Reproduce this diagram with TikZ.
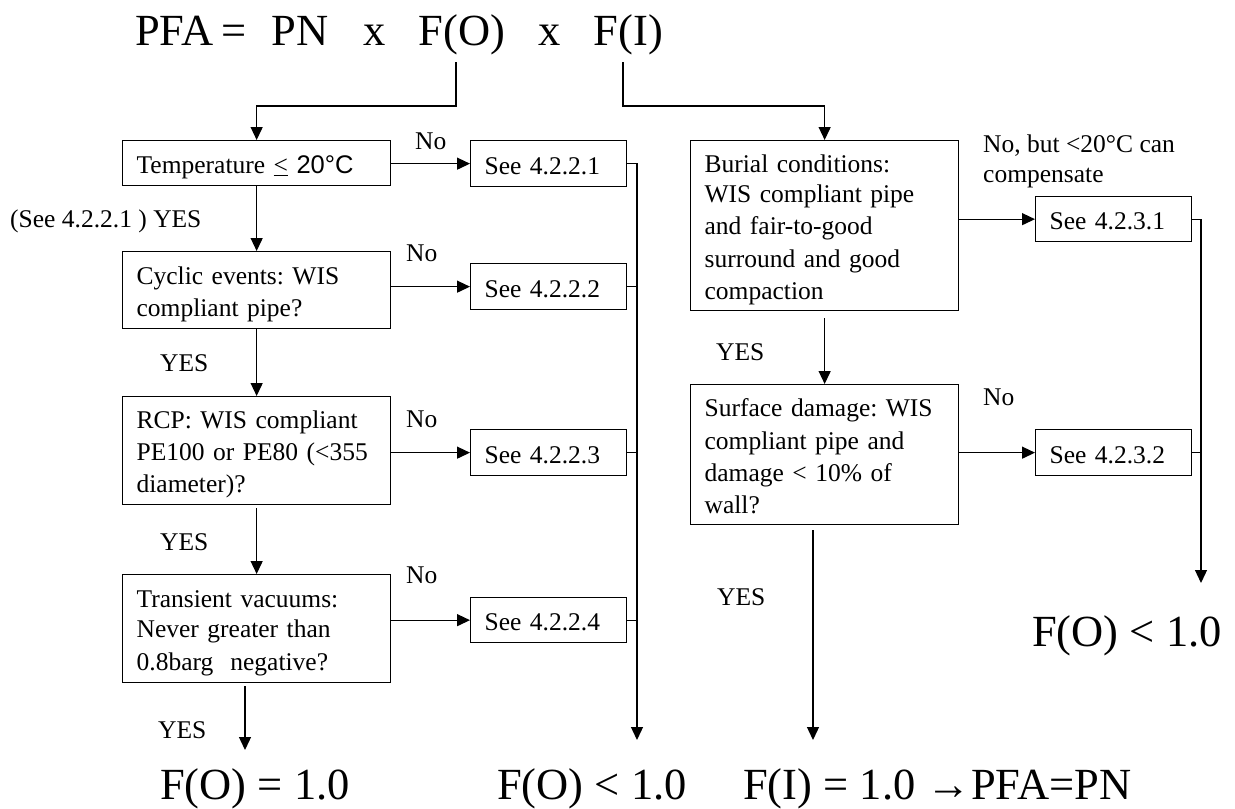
\documentclass[tikz,border=0pt]{standalone}
\usepackage{fontspec}
\setmainfont{Liberation Serif}
\newfontfamily\arialfont{Liberation Sans}
\usetikzlibrary{arrows.meta}
\newcommand\boxfont{\fontsize{25.5}{30.5}\selectfont}
\newcommand\bigfont{\fontsize{44.5}{53}\selectfont}
\newcommand\ms{\rule[-4.75pt]{0pt}{30.5pt}}
\frenchspacing
\begin{document}
\begin{tikzpicture}[x=1pt,y=-1pt,
  box/.style={draw, line width=1.3pt, anchor=north west, inner xsep=14pt, inner ysep=0pt, align=left, font=\boxfont},
  lbl/.style={font=\boxfont, inner sep=0pt, anchor=base west},
  big/.style={font=\bigfont, inner sep=0pt, anchor=base west},
  conn/.style={line width=1.3pt},
  arr/.style={conn, -{Triangle[length=13pt,width=12pt]}},
]
\useasboundingbox (0,0) rectangle (1235,809);

% title
\node[big] (title) at (135,45) {PFA\hspace{8pt}=\hspace{25pt}PN\hspace{35pt}x\hspace{33pt}F(O)\hspace{33.5pt}x\hspace{33pt}F(I)};
\coordinate (fo) at (456,62);
\coordinate (fi) at (623,62);

% left column
\node[box, text width=240pt, minimum height=45pt] (temp) at (122,140) {\ms Temperature \underline{<} {\arialfont 20°C}};
\node[box, text width=128pt, minimum height=46pt] (s1) at (470,140) {\ms See 4.2.2.1};
\node[box, text width=240pt, minimum height=77pt] (cyc) at (122,251) {\ms Cyclic events: WIS\\\ms compliant pipe?};
\node[box, text width=128pt, minimum height=46pt] (s2) at (470,263) {\ms See 4.2.2.2};
\node[box, text width=240pt, minimum height=108pt] (rcp) at (122,396) {\ms RCP: WIS compliant\\\ms PE100 or PE80 (<355\\\ms diameter)?};
\node[box, text width=128pt, minimum height=46pt] (s3) at (470,429) {\ms See 4.2.2.3};
\node[box, text width=240pt, minimum height=108pt] (tv) at (122,574) {\ms Transient vacuums:\\\ms Never greater than\\\ms 0.8barg\ \ negative?};
\node[box, text width=128pt, minimum height=45pt] (s4) at (470,597) {\ms See 4.2.2.4};

% right column
\node[box, text width=240pt, minimum height=170pt] (bur) at (690,140) {\ms Burial conditions:\\\ms WIS compliant pipe\\\ms and fair-to-good\\\ms surround and good\\\ms compaction};
\node[box, text width=128pt, minimum height=45pt] (s5) at (1035,196) {\ms See 4.2.3.1};
\node[box, text width=240pt, minimum height=140pt] (surf) at (690,384) {\ms Surface damage: WIS\\\ms compliant pipe and\\\ms damage < 10\% of\\\ms wall?};
\node[box, text width=128pt, minimum height=46pt] (s6) at (1035,429) {\ms See 4.2.3.2};

% results
\node[big] (r1) at (160,799) {F(O) = 1.0};
\node[big] (r2) at (497,799) {F(O) < 1.0};
\node[big] (r3) at (743,799) {F(I) = 1.0 →PFA=PN};
\node[big] (r4) at (1032,646) {F(O) < 1.0};

% labels
\node[lbl] (no1) at (415,149) {No};
\node[lbl] (yes1) at (10,227) {(See 4.2.2.1 ) YES};
\node[lbl] (no2) at (406,261) {No};
\node[lbl] (yes2) at (160,371) {YES};
\node[lbl] (no3) at (406,427) {No};
\node[lbl] (yes3) at (160,550) {YES};
\node[lbl] (no4) at (406,583) {No};
\node[lbl] (yes4) at (158,738) {YES};
\node[lbl, anchor=north west, align=left] (no5) at (983,126.25) {\ms No, but <20°C can\\\ms compensate};
\node[lbl] (yes5) at (716,360) {YES};
\node[lbl] (no6) at (983,405) {No};
\node[lbl] (yes6) at (717,605) {YES};

% end points
\coordinate (e1) at (245,750);
\coordinate (e2) at (637,740);
\coordinate (e3) at (813,740);
\coordinate (e4) at (1201,583);

% connectors from title
\draw[arr] (fo) -- ++(0,44) -| (temp.north);
\draw[arr] (fi) -- ++(0,44) -| (bur.north);

% NO arrows
\draw[arr] (temp.east |- s1.west) -- (s1.west);
\draw[arr] (cyc.east |- s2.west) -- (s2.west);
\draw[arr] (rcp.east |- s3.west) -- (s3.west);
\draw[arr] (tv.east |- s4.west) -- (s4.west);
\draw[arr] (bur.east |- s5.west) -- (s5.west);
\draw[arr] (surf.east |- s6.west) -- (s6.west);

% YES arrows
\draw[arr] (temp.south) -- (cyc.north);
\draw[arr] (cyc.south) -- (rcp.north);
\draw[arr] (rcp.south) ++(0,3) -- (tv.north);
\draw[arr] (bur.south) ++(0,7) -- (surf.north);
\draw[arr] (e1 |- tv.south) ++(0,3) -- (e1);
\draw[arr] (e3 |- surf.south) ++(0,5) -- (e3);

% collector lines
\draw[arr] (s1.east) -| (e2);
\draw[conn] (s2.east) -- (s2.east -| e2);
\draw[conn] (s3.east) -- (s3.east -| e2);
\draw[conn] (s4.east) -- (s4.east -| e2);
\draw[arr] (s5.east) -| (e4);
\draw[conn] (s6.east) -- (s6.east -| e4);
\end{tikzpicture}
\end{document}
